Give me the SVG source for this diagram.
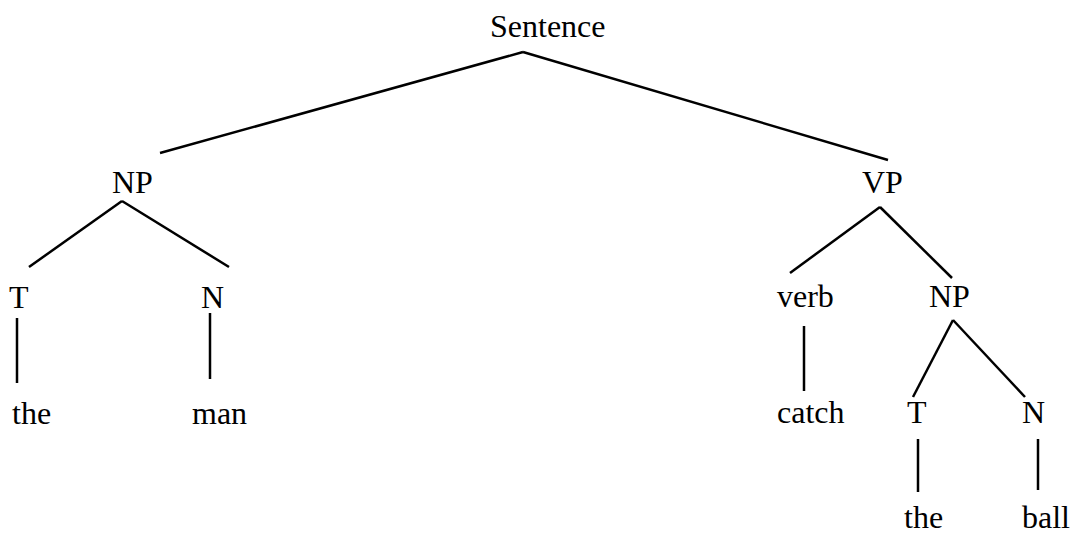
<svg xmlns="http://www.w3.org/2000/svg" width="1071" height="540" viewBox="0 0 1071 540">
<style>
text{font-family:"Liberation Serif","Times New Roman",serif;font-size:32px;fill:#000}
.c line{stroke:#000;stroke-width:2.5;stroke-linecap:butt}
</style>
<rect width="1071" height="540" fill="#fff"/>
<g class="c" id="connectors">
<line x1="523" y1="52" x2="160" y2="153"/>
<line x1="523" y1="52" x2="888" y2="160"/>
<line x1="122" y1="201" x2="29" y2="267"/>
<line x1="122" y1="201" x2="229" y2="267"/>
<line x1="17" y1="318" x2="17" y2="383"/>
<line x1="210" y1="313" x2="210" y2="379"/>
<line x1="880" y1="207" x2="790" y2="273"/>
<line x1="880" y1="207" x2="952" y2="278"/>
<line x1="804" y1="326" x2="804" y2="391"/>
<line x1="953" y1="320" x2="913" y2="397"/>
<line x1="953" y1="320" x2="1025" y2="397"/>
<line x1="918" y1="439" x2="918" y2="492"/>
<line x1="1038" y1="439" x2="1038" y2="490"/>
</g>
<g id="sentence"><text x="490" y="37">Sentence</text></g>
<g id="np1"><text x="112" y="193">NP</text></g>
<g id="vp"><text x="862" y="193">VP</text></g>
<g id="t1"><text x="9" y="308">T</text></g>
<g id="n1"><text x="201" y="308">N</text></g>
<g id="the1"><text x="12" y="424">the</text></g>
<g id="man"><text x="192" y="424">man</text></g>
<g id="verb"><text x="777" y="307">verb</text></g>
<g id="np2"><text x="929" y="307">NP</text></g>
<g id="catch"><text x="777" y="423">catch</text></g>
<g id="t2"><text x="907" y="423">T</text></g>
<g id="n2"><text x="1022" y="423">N</text></g>
<g id="the2"><text x="904" y="528">the</text></g>
<g id="ball"><text x="1022" y="528">ball</text></g>
</svg>
